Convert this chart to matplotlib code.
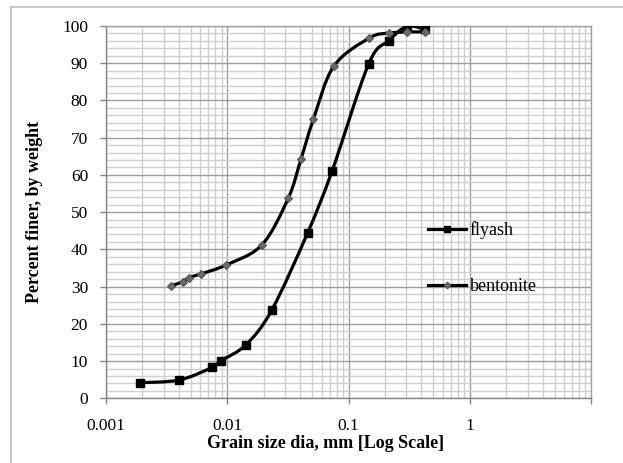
import matplotlib
matplotlib.use("Agg")
import numpy as np
import matplotlib.pyplot as plt
from matplotlib.ticker import FixedLocator, LogLocator, MultipleLocator, NullFormatter
from matplotlib.lines import Line2D
from matplotlib.path import Path
from matplotlib.patches import PathPatch

# Data
flyash_d = [0.0019, 0.0040, 0.0075, 0.0089, 0.0143, 0.0233, 0.0461, 0.0733, 0.147, 0.216, 0.303, 0.428]
flyash_p = [4.2, 4.9, 8.3, 10.1, 14.4, 23.7, 44.5, 61.1, 89.9, 96.1, 99.9, 99.1]

bent_d = [0.00342, 0.0043, 0.00481, 0.00604, 0.00977, 0.0193, 0.0319, 0.0406, 0.0514, 0.0756, 0.149, 0.216, 0.303, 0.428]
bent_p = [30.2, 31.3, 32.4, 33.4, 35.8, 41.2, 53.8, 64.3, 75.0, 89.2, 96.8, 98.1, 98.4, 98.4]

x_ticks = [0.001, 0.01, 0.1, 1, 10]
x_tick_labels = ["0.001", "0.01", "0.1", "1", ""]
y_ticks = list(range(0, 101, 10))

plt.rcParams['font.family'] = ['Liberation Serif', 'DejaVu Serif']

W, H = 623, 463
fig = plt.figure(figsize=(W / 100, H / 100), dpi=100)
L, R, T, B = 106, 591, 26, 398.3
ax = fig.add_axes([L / W, 1 - B / H, (R - L) / W, (B - T) / H])

ax.set_xscale('log')
ax.set_xlim(0.001, 10)
ax.set_ylim(0, 100)

# Excel-style smoothed line: cubic Bezier segments (Catmull-Rom control points)
SX = (R - L) / 4.0      # px per decade
SY = (B - T) / 100.0    # px per percent


def smoothed_path(xs, ys):
    pts = np.column_stack([np.log10(xs) * SX, np.asarray(ys) * SY])
    n = len(pts)
    verts = [pts[0]]
    codes = [Path.MOVETO]
    for i in range(n - 1):
        p0 = pts[i - 1] if i > 0 else pts[i]
        p1 = pts[i]
        p2 = pts[i + 1]
        p3 = pts[i + 2] if i + 2 < n else pts[i + 1]
        c1 = p1 + (p2 - p0) / 6.0
        c2 = p2 - (p3 - p1) / 6.0
        verts += [c1, c2, p2]
        codes += [Path.CURVE4] * 3
    verts = np.array(verts)
    data = np.column_stack([10 ** (verts[:, 0] / SX), verts[:, 1] / SY])
    return Path(data, codes)


for xs, ys in [(flyash_d, flyash_p), (bent_d, bent_p)]:
    ax.add_patch(PathPatch(smoothed_path(xs, ys), fill=False, edgecolor='black',
                           lw=2.3, zorder=3, capstyle='round', joinstyle='round'))

ax.plot(flyash_d, flyash_p, ls='none', marker='s', ms=5.5,
        mfc='black', mec='black', zorder=4)
ax.plot(bent_d, bent_p, ls='none', marker='D', ms=4.4,
        mfc='#6a6a6a', mec='#555555', mew=0.8, zorder=5)

ax.xaxis.set_major_locator(FixedLocator(x_ticks))
ax.set_xticklabels(x_tick_labels)
ax.xaxis.set_minor_locator(LogLocator(base=10, subs=range(2, 10), numticks=20))
ax.xaxis.set_minor_formatter(NullFormatter())
ax.yaxis.set_major_locator(FixedLocator(y_ticks))
ax.yaxis.set_minor_locator(MultipleLocator(2))

ax.grid(which='major', axis='both', color='#9e9e9e', lw=1.0, zorder=0)
ax.grid(which='minor', axis='both', color='#cfcfcf', lw=1.0, zorder=0)
ax.set_axisbelow(True)

ax.tick_params(which='minor', length=0)
ax.tick_params(which='major', direction='out', length=4.3, width=1, color='#868686',
               labelsize=12.5, labelcolor='black')
ax.tick_params(axis='y', which='major', pad=8.6)
ax.tick_params(axis='x', which='major', pad=10)

for s in ax.spines.values():
    s.set_color('#a0a0a0')
    s.set_linewidth(1.0)
ax.spines['left'].set_color('#868686')
ax.spines['bottom'].set_color('#868686')

fig.text(326 / W, 1 - 444 / H, 'Grain size dia, mm [Log Scale]', ha='center', va='center',
         fontsize=13, fontweight='bold')
fig.text(35 / W, 1 - 211.5 / H, 'Percent finer, by weight', ha='center', va='center',
         rotation=90, fontsize=13, fontweight='bold')

handles = [
    Line2D([], [], color='black', lw=2.3, marker='s', ms=4.5, mfc='black', mec='black'),
    Line2D([], [], color='black', lw=2.3, marker='D', ms=3.4, mfc='#6a6a6a', mec='#555555', mew=0.8),
]
ax.legend(handles, ['flyash', 'bentonite'], loc='upper left',
          bbox_to_anchor=(428 / W, 1 - 221 / H),
          bbox_transform=fig.transFigure, frameon=False, fontsize=13,
          borderpad=0, borderaxespad=0, handlelength=2.1, handletextpad=0.22,
          labelspacing=2.17)

# chart-area frame (top and left edges visible)
fig.add_artist(Line2D([11 / W, 11 / W], [0, 1 - 7 / H], transform=fig.transFigure,
                      color='#bfbfbf', lw=1.2))
fig.add_artist(Line2D([11 / W, 1], [1 - 7 / H, 1 - 7 / H], transform=fig.transFigure,
                      color='#bfbfbf', lw=1.2))

fig.savefig('out.png', dpi=100)
